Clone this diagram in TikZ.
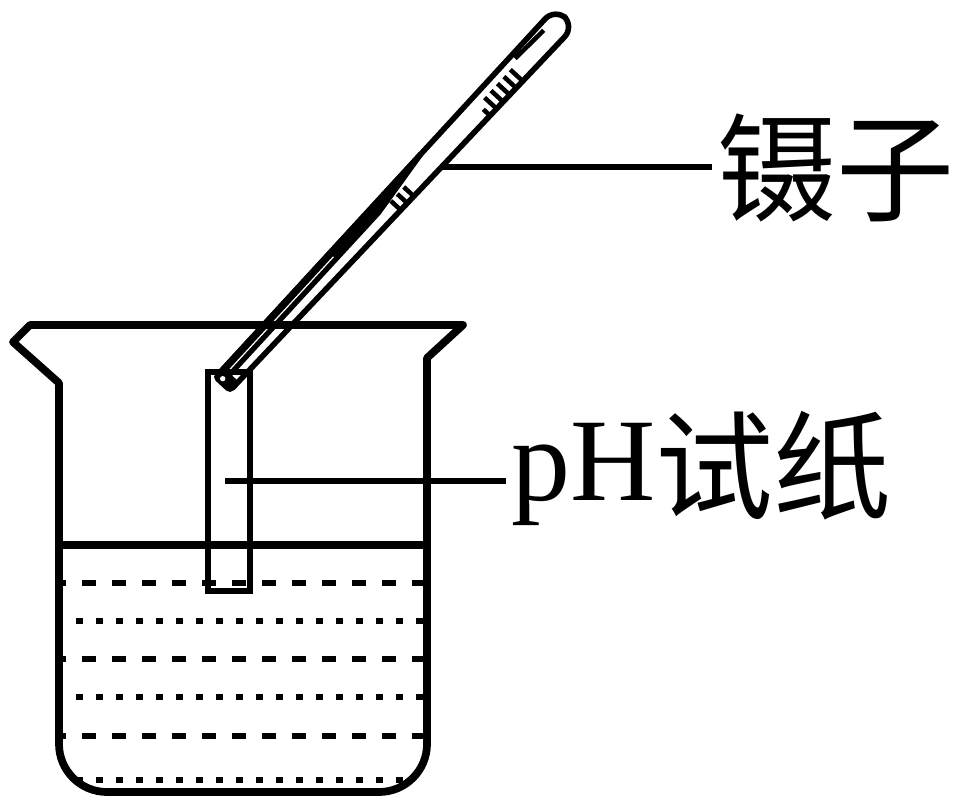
\documentclass[tikz,border=0pt]{standalone}
\usepackage{fontspec}
\setmainfont{Liberation Serif}
\newfontfamily\cjk{Noto Sans CJK SC}
\begin{document}
\begin{tikzpicture}[x=0.75pt,y=0.75pt,
  beaker/.style={line width=5.8pt, line join=round},
  leader/.style={line width=5pt},
  longdash/.style={line width=5pt, dash pattern=on 10.5pt off 12pt},
  shortdash/.style={line width=5pt, dash pattern=on 5.6pt off 9.4pt},
  twline/.style={line width=4.2pt, line join=round},
  ridge/.style={line width=3.4pt},
  lbl/.style={inner sep=0pt, font=\fontsize{88.5}{88.5}\selectfont}
]
\useasboundingbox (0,0) rectangle (963,-807);

% tweezers body
\begin{scope}[shift={(228,-384)}, rotate=47.4]
  \fill (0,16.5) -- (300,16.5) -- (300,11) -- (228,2.5) -- (0,2.5) -- cycle;
  \draw[twline, rounded corners=11] (0,13.7) -- (498,13.7) -- (498,-13) -- (0,-6);
  \draw[white, line width=0.9pt] (8,8.5) -- (165,8.5);
  \foreach \s in {245,254.5,264} \draw[ridge] (\s,-10) -- (\s,4);
  \draw[ridge] (375,-11) -- (375,-2);
  \foreach \s in {384.5,394,403.5,413,422.5} \draw[ridge] (\s,-11) -- (\s,5);
  \draw[ridge] (434,9) -- (474,7);
  \coordinate (tw) at (303,-10);
\end{scope}

% liquid layers
\begin{scope}
  \clip (59,-383) -- (59,-744) arc[start angle=180,end angle=270,radius=48]
        -- (379,-792) arc[start angle=270,end angle=360,radius=48] -- (427,-358) -- cycle;
  \foreach \y in {583,659,736} \draw[longdash] (52,-\y) -- (460,-\y);
  \foreach \y in {621,697,780} \draw[shortdash] (56,-\y) -- (460,-\y);
\end{scope}

% beaker
\draw[beaker] (463,-325) -- (30,-325) -- (13,-342) -- (59,-383) -- (59,-744)
  arc[start angle=180,end angle=270,radius=48] -- (379,-792)
  arc[start angle=270,end angle=360,radius=48] -- (427,-358) -- cycle;
\draw[beaker] (59,-545) -- (427,-545);

% pH paper
\node[draw, line width=5pt, inner sep=0pt, minimum width=31.5pt, minimum height=164.25pt] (paper) at (229,-481.5) {};

% tweezers tip
\begin{scope}[shift={(228,-384)}, rotate=47.4]
  \fill[rounded corners=4] (-6,16.5) -- (9,16.5) -- (9,-8.5) -- (-6,-8.5) -- cycle;
  \fill[white] (0.3,7.5) circle (2.7);
\end{scope}

% labels
\node[lbl, anchor=base west] (nie) at (718,-212) {\cjk 镊子};
\node[lbl, anchor=base west] (ph) at (511,-500) {pH\raisebox{-8pt}{\cjk 试纸}};
\coordinate (l1) at (712,-167);
\draw[leader] (tw |- l1) -- (l1);
\coordinate (pp) at (225,-481);
\coordinate (l2) at (506,-481);
\draw[leader] (pp) -- (l2);
\end{tikzpicture}
\end{document}
